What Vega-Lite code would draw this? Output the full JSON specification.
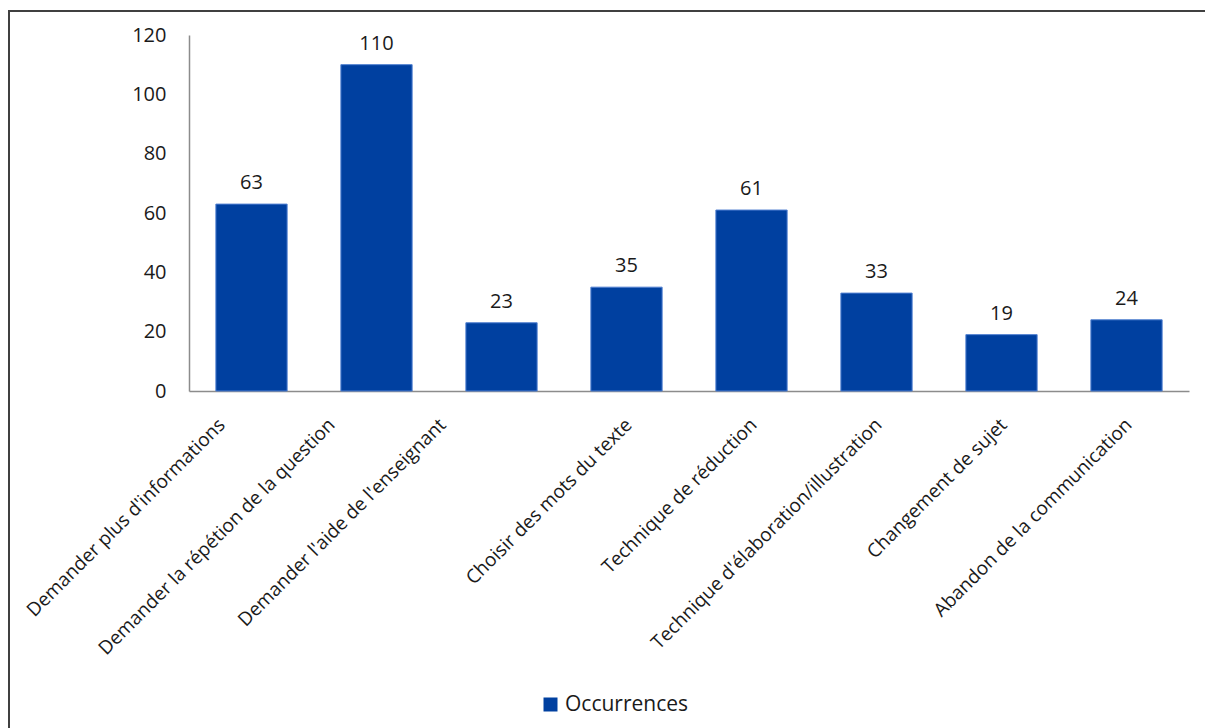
{
  "$schema": "https://vega.github.io/schema/vega-lite/v6.json",
  "autosize": "none",
  "padding": {"left": 9, "top": 11, "right": 0, "bottom": 0},
  "width": 1200,
  "height": 720,
  "background": "white",
  "config": {
    "view": {"stroke": "#404040", "strokeWidth": 2},
    "font": "Open Sans",
    "axis": {"labelFont": "Open Sans", "labelColor": "#1a1a1a", "grid": false, "title": null}
  },
  "data": {
    "values": [
      {"strategie": "Demander plus d'informations", "occurrences": 63, "serie": "Occurrences"},
      {"strategie": "Demander la répétion de la question", "occurrences": 110, "serie": "Occurrences"},
      {"strategie": "Demander l'aide de l'enseignant", "occurrences": 23, "serie": "Occurrences"},
      {"strategie": "Choisir des mots du texte", "occurrences": 35, "serie": "Occurrences"},
      {"strategie": "Technique de réduction", "occurrences": 61, "serie": "Occurrences"},
      {"strategie": "Technique d'élaboration/illustration", "occurrences": 33, "serie": "Occurrences"},
      {"strategie": "Changement de sujet", "occurrences": 19, "serie": "Occurrences"},
      {"strategie": "Abandon de la communication", "occurrences": 24, "serie": "Occurrences"}
    ]
  },
  "encoding": {
    "x": {
      "field": "strategie",
      "type": "nominal",
      "sort": null,
      "scale": {"range": [180, 1180], "paddingInner": 0.43, "paddingOuter": 0.215},
      "axis": {
        "orient": "bottom",
        "offset": -340,
        "domainColor": "#8c8c8c",
        "domainWidth": 1.5,
        "ticks": false,
        "tickSize": 0,
        "labelAngle": -45,
        "labelAlign": "right",
        "labelBaseline": "top",
        "labelPadding": 24,
        "labelFontSize": 19,
        "labelLimit": 0,
        "labelOverlap": false,
        "labelOffset": {"expr": "indexof(datum.value, 'plus d') >= 0 ? -36 : indexof(datum.value, 'question') >= 0 ? -51 : indexof(datum.value, 'enseignant') >= 0 ? -65 : -4"}
      }
    },
    "y": {
      "field": "occurrences",
      "type": "quantitative",
      "scale": {"domain": [0, 120], "range": [380, 24], "nice": false},
      "axis": {
        "orient": "left",
        "offset": -180,
        "values": [0, 20, 40, 60, 80, 100, 120],
        "domainColor": "#8c8c8c",
        "domainWidth": 1.5,
        "ticks": false,
        "tickSize": 0,
        "labelPadding": 23,
        "labelFontSize": 20
      }
    }
  },
  "layer": [
    {
      "mark": {"type": "bar", "stroke": "#4f7fd0", "strokeWidth": 1},
      "encoding": {
        "color": {
          "field": "serie",
          "type": "nominal",
          "scale": {"range": ["#0040a0"]},
          "legend": {
            "title": null,
            "orient": "none",
            "legendX": 531,
            "legendY": 683,
            "symbolType": "square",
            "symbolSize": 196,
            "symbolStrokeWidth": 0,
            "labelFontSize": 21,
            "labelFont": "Open Sans",
            "labelColor": "#1a1a1a",
            "labelOffset": 4,
            "padding": 0
          }
        }
      }
    },
    {
      "mark": {"type": "text", "baseline": "alphabetic", "dy": -15, "fontSize": 20, "font": "Open Sans", "color": "#1a1a1a"},
      "encoding": {
        "text": {"field": "occurrences", "type": "quantitative"}
      }
    }
  ]
}
